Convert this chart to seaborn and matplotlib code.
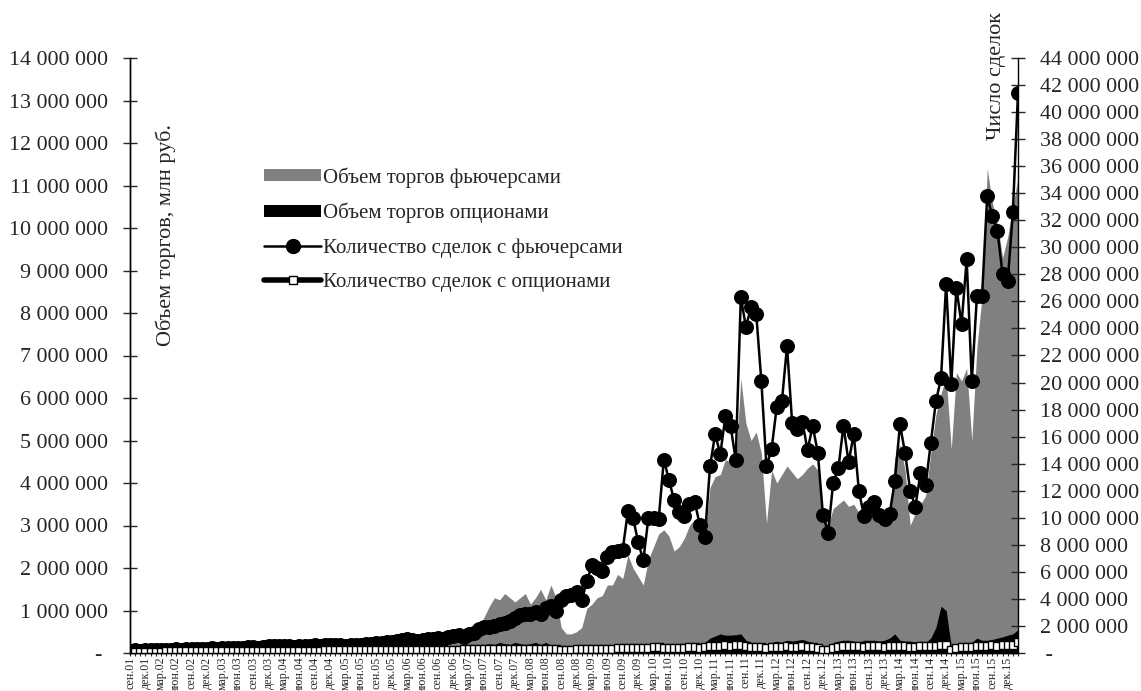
import matplotlib
matplotlib.use('Agg')
import matplotlib.pyplot as plt
import matplotlib.ticker as mticker
from matplotlib.patches import Patch
from matplotlib.lines import Line2D
import seaborn as sns
import numpy as np

# месячные данные: сен.2001 - фев.2016
years = ['01', '02', '03', '04', '05', '06', '07', '08', '09', '10', '11', '12', '13', '14', '15']
quarter_months = ['мар', 'июн', 'сен', 'дек']

# объем торгов фьючерсами, млн руб. (в миллионах)
fut_vol = [
    0.01, 0.012, 0.01, 0.012, 0.015, 0.015, 0.014, 0.016, 0.015, 0.018, 0.017,
    0.02, 0.02, 0.02, 0.022, 0.025, 0.025, 0.024, 0.026, 0.03, 0.028, 0.03, 0.032,
    0.035, 0.038, 0.035, 0.04, 0.045, 0.05, 0.05, 0.048, 0.05, 0.045, 0.05, 0.052,
    0.055, 0.06, 0.055, 0.06, 0.065, 0.07, 0.065, 0.06, 0.07, 0.075, 0.07, 0.08,
    0.09, 0.1, 0.1, 0.12, 0.13, 0.15, 0.16, 0.18, 0.16, 0.15, 0.16, 0.18,
    0.2, 0.22, 0.2, 0.25, 0.3, 0.32, 0.3, 0.38, 0.45,
    0.6, 0.85, 1.1, 1.3, 1.25, 1.4, 1.3, 1.2, 1.3, 1.4, 1.15, 1.3,
    1.5, 1.25, 1.6, 1.3, 0.6, 0.45, 0.45, 0.5, 0.6, 1.05, 1.15, 1.3,
    1.35, 1.6, 1.6, 1.85, 1.75, 2.3, 2.0, 1.8, 1.6, 2.2, 2.5, 2.8,
    2.9, 2.75, 2.4, 2.5, 2.7, 3.0, 3.15, 2.9, 2.75, 3.9, 4.15, 4.2,
    4.55, 4.5, 4.45, 6.45, 5.4, 5.0, 5.2, 4.7, 3.05, 4.3, 4.0, 4.2,
    4.4, 4.25, 4.1, 4.2, 4.35, 4.45, 4.3, 3.3,
    3.0, 3.4, 3.5, 3.6, 3.45, 3.5, 3.3, 3.1, 3.2, 3.3, 3.1, 3.2, 3.3,
    4.6, 4.9, 4.3, 3.0, 3.3, 3.5, 3.7, 4.7,
    5.6, 6.1, 6.5, 4.8, 6.6, 6.4, 6.7, 5.0, 7.2, 8.4, 11.4, 10.6, 10.1, 9.3, 9.8, 10.5, 11.2,
]

# объем торгов опционами, млн руб. (в миллионах)
opt_vol = [
    0.003, 0.003, 0.004, 0.004, 0.004, 0.005, 0.005, 0.005, 0.005, 0.006, 0.006,
    0.006, 0.007, 0.007, 0.007, 0.008, 0.008, 0.008, 0.009, 0.009, 0.01, 0.01, 0.01,
    0.011, 0.011, 0.012, 0.012, 0.013, 0.013, 0.014, 0.014, 0.015, 0.015, 0.016, 0.016,
    0.017, 0.017, 0.018, 0.018, 0.019, 0.02, 0.02, 0.021, 0.022, 0.022, 0.023, 0.024,
    0.025, 0.026, 0.027, 0.028, 0.029, 0.03, 0.031, 0.032, 0.033, 0.034, 0.035, 0.036,
    0.04, 0.05, 0.05, 0.06, 0.07, 0.08, 0.07, 0.09, 0.1,
    0.15, 0.2, 0.22, 0.2, 0.25, 0.22, 0.2, 0.25, 0.22, 0.2, 0.22, 0.25,
    0.2, 0.25, 0.18, 0.12, 0.1, 0.1, 0.08, 0.09, 0.1, 0.1, 0.1, 0.11,
    0.1, 0.12, 0.11, 0.12, 0.12, 0.14, 0.13, 0.12, 0.14, 0.15, 0.16, 0.18,
    0.17, 0.18, 0.16, 0.17, 0.18, 0.2, 0.22, 0.2, 0.25, 0.35, 0.4, 0.45,
    0.42, 0.42, 0.43, 0.45, 0.3, 0.25, 0.22, 0.2, 0.18, 0.25, 0.28, 0.25,
    0.3, 0.28, 0.3, 0.32, 0.28, 0.25, 0.2, 0.15,
    0.15, 0.25, 0.28, 0.3, 0.3, 0.28, 0.25, 0.3, 0.3, 0.3, 0.28, 0.3, 0.35,
    0.45, 0.3, 0.28, 0.28, 0.26, 0.28, 0.25, 0.35,
    0.6, 1.1, 1.0, 0.15, 0.18, 0.2, 0.18, 0.25, 0.35, 0.3, 0.3, 0.32, 0.35, 0.38, 0.42, 0.45, 0.55,
]

# количество сделок с фьючерсами (в миллионах)
fut_deals = [
    0.15, 0.2, 0.17, 0.2, 0.22, 0.25, 0.22, 0.25, 0.24, 0.26, 0.25,
    0.28, 0.3, 0.27, 0.3, 0.32, 0.35, 0.33, 0.35, 0.38, 0.36, 0.35, 0.4,
    0.42, 0.45, 0.4, 0.48, 0.5, 0.52, 0.55, 0.5, 0.53, 0.48, 0.5, 0.52,
    0.55, 0.58, 0.5, 0.56, 0.6, 0.62, 0.58, 0.55, 0.6, 0.62, 0.6, 0.65,
    0.7, 0.75, 0.72, 0.8, 0.85, 0.9, 0.95, 1.05, 0.95, 0.9, 0.95, 1.0,
    1.05, 1.1, 1.0, 1.15, 1.25, 1.3, 1.2, 1.4, 1.5,
    1.8, 1.9, 1.95, 2.0, 2.15, 2.25, 2.4, 2.6, 2.8, 2.9, 2.85, 3.0,
    2.9, 3.35, 3.45, 3.1, 3.9, 4.2, 4.3, 4.5, 3.9, 5.3, 6.5, 6.25,
    6.05, 7.1, 7.45, 7.55, 7.65, 10.5, 10.0, 8.2, 6.85, 10.0, 10.0, 9.9,
    14.3, 12.8, 11.3, 10.4, 10.1, 11.0, 11.2, 9.5, 8.6, 13.8, 16.2, 14.7,
    17.5, 16.8, 14.3, 26.3, 24.1, 25.6, 25.1, 20.1, 13.8, 15.1, 18.2, 18.6,
    22.7, 17.0, 16.6, 17.1, 15.0, 16.8, 14.8, 10.2,
    8.9, 12.6, 13.65, 16.8, 14.1, 16.2, 12.0, 10.1, 10.8, 11.2, 10.2, 9.9, 10.3,
    12.7, 16.9, 14.8, 12.0, 10.8, 13.3, 12.4, 15.5,
    18.6, 20.3, 27.3, 19.9, 27.0, 24.3, 29.1, 20.1, 26.4, 26.4, 33.8, 32.3, 31.2, 28.0, 27.5, 32.6, 41.4,
]

# количество сделок с опционами (в миллионах)
opt_deals = [
    0.1, 0.1, 0.1, 0.11, 0.11, 0.11, 0.11, 0.12, 0.12, 0.12, 0.12,
    0.12, 0.13, 0.13, 0.13, 0.13, 0.14, 0.14, 0.14, 0.14, 0.15, 0.15, 0.15,
    0.15, 0.15, 0.16, 0.16, 0.16, 0.16, 0.17, 0.17, 0.17, 0.17, 0.18, 0.18,
    0.18, 0.18, 0.18, 0.19, 0.19, 0.19, 0.19, 0.2, 0.2, 0.2, 0.2, 0.2,
    0.2, 0.21, 0.21, 0.21, 0.21, 0.22, 0.22, 0.22, 0.22, 0.23, 0.23, 0.23,
    0.24, 0.24, 0.24, 0.25, 0.25, 0.25, 0.26, 0.26, 0.27,
    0.28, 0.28, 0.29, 0.29, 0.3, 0.3, 0.3, 0.3, 0.31, 0.31, 0.3, 0.3,
    0.3, 0.3, 0.28, 0.26, 0.25, 0.25, 0.25, 0.26, 0.27, 0.28, 0.3, 0.3,
    0.3, 0.32, 0.32, 0.34, 0.34, 0.35, 0.36, 0.36, 0.38, 0.4, 0.42, 0.45,
    0.38, 0.36, 0.38, 0.38, 0.4, 0.42, 0.42, 0.38, 0.42, 0.5, 0.52, 0.55,
    0.56, 0.55, 0.56, 0.58, 0.5, 0.45, 0.46, 0.48, 0.4, 0.45, 0.46, 0.48,
    0.5, 0.48, 0.46, 0.5, 0.45, 0.42, 0.36, 0.25,
    0.2, 0.4, 0.46, 0.5, 0.52, 0.5, 0.5, 0.48, 0.5, 0.5, 0.5, 0.48, 0.5,
    0.52, 0.5, 0.5, 0.48, 0.46, 0.5, 0.5, 0.52, 0.55, 0.56, 0.58,
    0.2, 0.4, 0.42, 0.46, 0.48, 0.5, 0.52, 0.55, 0.56, 0.55, 0.56, 0.58, 0.6, 0.85,
]

xlabels = ['сен.01', 'дек.01'] + [m + '.' + y for y in years[1:] for m in quarter_months]

sns.set_style('ticks')
plt.rcParams['font.family'] = ['Liberation Serif', 'DejaVu Serif']

fig = plt.figure(figsize=(11.41, 6.91), dpi=100)
ax = fig.add_axes([130 / 1141, 38 / 691, 888 / 1141, 595 / 691])
ax2 = ax.twinx()

x = np.arange(len(fut_deals))
ax.fill_between(x, np.array(fut_vol) * 1e6, color='#808080', lw=0)
ax.fill_between(x, np.array(opt_vol) * 1e6, color='black', lw=0)

sns.lineplot(x=x, y=np.array(fut_deals) * 1e6, ax=ax2, color='black', lw=1.8,
             marker='o', ms=10, mec='black', legend=False)
sns.lineplot(x=x, y=np.array(opt_deals) * 1e6, ax=ax2, color='black', lw=4,
             marker='s', ms=5.5, mfc='white', mec='black', mew=1.0, legend=False)

def fmt_left(v, p):
    return '- ' if v == 0 else f'{v:,.0f}'.replace(',', ' ')

def fmt_right(v, p):
    return ' -' if v == 0 else f'{v:,.0f}'.replace(',', ' ')

ax.set_xlim(0, len(x) - 1)
ax.set_ylim(0, 14e6)
ax2.set_ylim(0, 44e6)
ax.yaxis.set_major_locator(mticker.MultipleLocator(1e6))
ax2.yaxis.set_major_locator(mticker.MultipleLocator(2e6))
ax.yaxis.set_major_formatter(mticker.FuncFormatter(fmt_left))
ax2.yaxis.set_major_formatter(mticker.FuncFormatter(fmt_right))

ax.set_xticks(x[::3])
ax.set_xticklabels(xlabels, rotation=90, fontsize=8.6)
ax.set_xticks(x, minor=True)
ax.tick_params(axis='x', which='both', direction='out', length=2, width=0.8, pad=0.5)
ax.tick_params(axis='y', direction='inout', length=10, width=1, labelsize=15.8, pad=11)
ax2.tick_params(axis='y', direction='inout', length=10, width=1, labelsize=15.8, pad=11)

for a in (ax, ax2):
    a.spines['top'].set_visible(False)
    for s in ('left', 'right', 'bottom'):
        a.spines[s].set_linewidth(1)
        a.spines[s].set_color('black')
    a.set_xlabel('')
    a.set_ylabel('')
ax.spines['right'].set_visible(False)

fig.text(166 / 1141, 1 - 235 / 691, 'Объем торгов, млн руб.', rotation=90,
         ha='center', va='center', fontsize=16)
fig.text(997 / 1141, 1 - 140 / 691, 'Число сделок', rotation=90,
         ha='center', va='bottom', fontsize=16)

handles = [
    Patch(fc='#808080', ec='none'),
    Patch(fc='black', ec='none'),
    Line2D([], [], color='black', lw=1.8, marker='o', ms=10),
    Line2D([], [], color='black', lw=4, marker='s', ms=5.5, mfc='white', mec='black'),
]
labels = ['Объем торгов фьючерсами', 'Объем торгов опционами',
          'Количество сделок с фьючерсами', 'Количество сделок с опционами']
fig.legend(handles, labels, loc='upper left', bbox_to_anchor=(264 / 1141, 1 - 167 / 691),
           frameon=False, fontsize=15, handlelength=2.75, handleheight=0.5,
           handletextpad=0.1, labelspacing=0.72, borderpad=0, borderaxespad=0)

fig.savefig('out.png', dpi=100)
